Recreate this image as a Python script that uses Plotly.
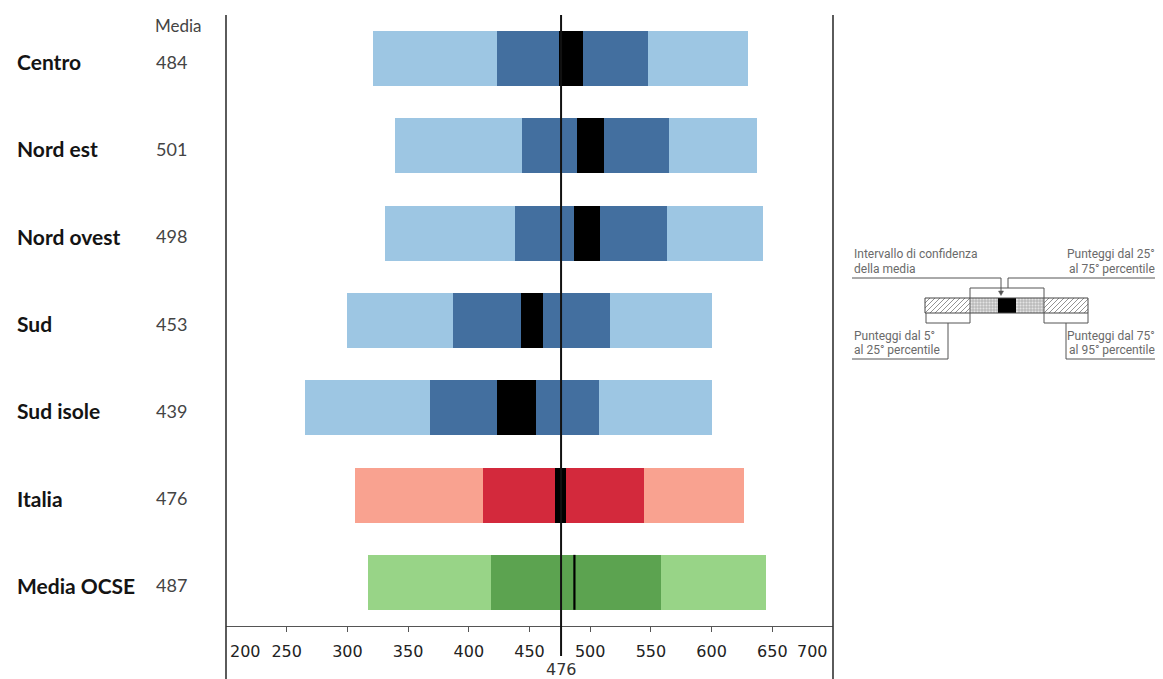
import plotly.graph_objects as go

# ---------------- data ----------------
categories = ["Centro", "Nord est", "Nord ovest", "Sud", "Sud isole", "Italia", "Media OCSE"]
means = [484, 501, 498, 453, 439, 476, 487]
p5 = [321, 339, 331, 300, 265, 306, 317]
p25 = [423, 444, 438, 387, 368, 412, 418]
ci_lo = [474, 489, 487, 443, 423, 471, None]
ci_hi = [494, 511, 508, 461, 455, 480, None]
p75 = [548, 565, 563, 516, 507, 544, 558]
p95 = [630, 637, 642, 600, 600, 627, 645]
ref_value = 476
tick_values = [250, 300, 350, 400, 450, 500, 550, 600, 650]
axis_min, axis_max = 200, 700

# ---------------- styles ----------------
light_col = ["#9dc6e3"] * 5 + ["#f9a290", "#98d487"]
dark_col = ["#436f9f"] * 5 + ["#d3293c", "#5ca350"]
BAR_W = 0.63

ys = list(range(len(categories)))

fig = go.Figure()
fig.add_trace(go.Bar(orientation="h", y=ys, base=p5,
                     x=[b - a for a, b in zip(p5, p95)],
                     width=BAR_W, marker=dict(color=light_col, line=dict(width=0)),
                     hoverinfo="skip"))
fig.add_trace(go.Bar(orientation="h", y=ys, base=p25,
                     x=[b - a for a, b in zip(p25, p75)],
                     width=BAR_W, marker=dict(color=dark_col, line=dict(width=0)),
                     hoverinfo="skip"))
ci_y = [y for y, lo in zip(ys, ci_lo) if lo is not None]
ci_base = [lo for lo in ci_lo if lo is not None]
ci_len = [hi - lo for lo, hi in zip(ci_lo, ci_hi) if lo is not None]
fig.add_trace(go.Bar(orientation="h", y=ci_y, base=ci_base, x=ci_len,
                     width=BAR_W, marker=dict(color="#000000", line=dict(width=0)),
                     hoverinfo="skip"))
# mean marker for rows without a confidence interval
for y, m, lo in zip(ys, means, ci_lo):
    if lo is None:
        fig.add_trace(go.Scatter(x=[m, m], y=[y - BAR_W / 2, y + BAR_W / 2], mode="lines",
                                 line=dict(color="#000000", width=2.2), hoverinfo="skip"))

# ---------------- layout geometry ----------------
# page body has an 8px margin: shrink the figure so the plot lands at the same place
OFF = 8
W_FIG, H_FIG = 1163 - OFF, 679 - OFF
L, R, T, B = 226, 833, 15, 626          # plot area in window pixels
PW, PH = R - L, B - T


def px(x):
    return (x - L) / PW


def py(y):
    return (B - y) / PH


shapes = []
annotations = []

# reference line (national mean)
shapes.append(dict(type="line", xref="x", yref="paper", x0=ref_value, x1=ref_value,
                   y0=py(656), y1=1, line=dict(color="#111111", width=2)))
# frame borders
for xp in (0, 1):
    shapes.append(dict(type="line", xref="paper", yref="paper", x0=xp, x1=xp,
                       y0=py(679), y1=1, line=dict(color="#333333", width=1.6)))

# left labels
for y, c, m in zip(ys, categories, means):
    annotations.append(dict(xref="paper", yref="y", x=px(15), y=y, yshift=-3,
                            text=c, showarrow=False, xanchor="left", yanchor="middle",
                            font=dict(family="Lato", size=21, color="#141414", weight="bold")))
    annotations.append(dict(xref="paper", yref="y", x=px(154), y=y, yshift=-3,
                            text=str(m), showarrow=False, xanchor="left", yanchor="middle",
                            font=dict(family="Lato", size=18, color="#444444")))
annotations.append(dict(xref="paper", yref="paper", x=px(153), y=py(26),
                        text="Media", showarrow=False, xanchor="left", yanchor="middle",
                        font=dict(family="Lato", size=17, color="#444444")))

# edge tick labels and reference value label
tickfont = dict(family="DejaVu Sans", size=16, color="#222222")
annotations.append(dict(xref="x", yref="paper", x=axis_min, y=py(651), xshift=2,
                        text=str(axis_min), showarrow=False, xanchor="left", yanchor="middle",
                        font=tickfont))
annotations.append(dict(xref="x", yref="paper", x=axis_max, y=py(651), xshift=-3,
                        text=str(axis_max), showarrow=False, xanchor="right", yanchor="middle",
                        font=tickfont))
annotations.append(dict(xref="x", yref="paper", x=ref_value, y=py(669),
                        text=str(ref_value), showarrow=False, xanchor="center", yanchor="middle",
                        font=dict(family="DejaVu Sans", size=16, color="#333333")))

# ---------------- key diagram (right side) ----------------
KC = "#555555"
KW = 1


def kline(x0, y0, x1, y1, w=KW, c=KC):
    shapes.append(dict(type="line", xref="paper", yref="paper",
                       x0=px(x0), y0=py(y0), x1=px(x1), y1=py(y1),
                       line=dict(color=c, width=w)))


bx0, bx1, by0, by1 = 925, 1088, 298, 313
seg = [925, 970, 998, 1016, 1044, 1088]


def hatch(xa, xb):
    d = ""
    step = 5
    h = by1 - by0
    s = xa - h
    while s < xb:
        x0, y0 = s, by1
        x1, y1 = s + h, by0
        if x0 < xa:
            y0 = by1 - (xa - x0)
            x0 = xa
        if x1 > xb:
            y1 = by0 + (x1 - xb)
            x1 = xb
        if x1 > x0:
            d += f"M{px(x0)},{py(y0)} L{px(x1)},{py(y1)} "
        s += step
    shapes.append(dict(type="path", xref="paper", yref="paper", path=d,
                       line=dict(color="#777777", width=0.8)))


def grid(xa, xb):
    shapes.append(dict(type="rect", xref="paper", yref="paper",
                       x0=px(xa), x1=px(xb), y0=py(by1), y1=py(by0),
                       fillcolor="#e4e4e4", line=dict(width=0)))
    d = ""
    gx = xa + 3
    while gx < xb:
        d += f"M{px(gx)},{py(by0)} L{px(gx)},{py(by1)} "
        gx += 3
    gy = by0 + 3
    while gy < by1:
        d += f"M{px(xa)},{py(gy)} L{px(xb)},{py(gy)} "
        gy += 3
    shapes.append(dict(type="path", xref="paper", yref="paper", path=d,
                       line=dict(color="#9a9a9a", width=0.6)))


hatch(seg[0], seg[1])
grid(seg[1], seg[2])
shapes.append(dict(type="rect", xref="paper", yref="paper",
                   x0=px(seg[2]), x1=px(seg[3]), y0=py(by1), y1=py(by0),
                   fillcolor="#000000", line=dict(width=0)))
grid(seg[3], seg[4])
hatch(seg[4], seg[5])
shapes.append(dict(type="rect", xref="paper", yref="paper",
                   x0=px(bx0), x1=px(bx1), y0=py(by1), y1=py(by0),
                   line=dict(color="#444444", width=1)))
for sx in (seg[1], seg[4]):
    kline(sx, by0, sx, by1)

# top bracket over interquartile segments
kline(970, 288, 1044, 288)
kline(970, 288, 970, by0)
kline(1044, 288, 1044, by0)
# confidence interval pointer
kline(852, 278, 1001, 278)
kline(1001, 278, 1001, 292)
shapes.append(dict(type="path", xref="paper", yref="paper",
                   path=f"M{px(998.5)},{py(291)} L{px(1003.5)},{py(291)} L{px(1001)},{py(295.5)} Z",
                   fillcolor=KC, line=dict(color=KC, width=0.5)))
# 25-75 pointer
kline(1008, 278, 1157, 278)
kline(1008, 278, 1008, 288)
# bottom-left bracket
kline(926, 323, 970, 323)
kline(926, by1, 926, 323)
kline(970, by1, 970, 323)
kline(948, 323, 948, 359)
kline(852, 359, 948, 359)
# bottom-right bracket
kline(1044, 323, 1088, 323)
kline(1044, by1, 1044, 323)
kline(1088, by1, 1088, 323)
kline(1066, 323, 1066, 359)
kline(1066, 359, 1157, 359)

kfont = dict(family="Roboto", size=12, color="#6a6a6a")
key_texts = [
    (852, 254, "left", "Intervallo di confidenza"),
    (852, 269, "left", "della media"),
    (1157, 254, "right", "Punteggi dal 25°"),
    (1157, 269, "right", "al 75° percentile"),
    (852, 336, "left", "Punteggi dal 5°"),
    (852, 350, "left", "al 25° percentile"),
    (1157, 336, "right", "Punteggi dal 75°"),
    (1157, 350, "right", "al 95° percentile"),
]
for x, y, anc, t in key_texts:
    annotations.append(dict(xref="paper", yref="paper", x=px(x), y=py(y), text=t,
                            showarrow=False, xanchor=anc, yanchor="middle", font=kfont))

fig.update_layout(
    width=W_FIG, height=H_FIG,
    margin=dict(l=L - OFF, r=1163 - R, t=T - OFF, b=679 - B, pad=0),
    paper_bgcolor="white", plot_bgcolor="white",
    barmode="overlay", bargap=0, showlegend=False,
    xaxis=dict(range=[axis_min, axis_max], tickvals=tick_values,
               ticktext=[str(v) for v in tick_values],
               showgrid=False, zeroline=False, showline=True, linecolor="#555555",
               linewidth=1.4, ticks="outside", ticklen=5, tickcolor="#555555",
               tickwidth=1.2, tickfont=tickfont, ticklabelstandoff=6, fixedrange=True),
    yaxis=dict(range=[6.5, -0.5], visible=False, showgrid=False, zeroline=False,
               fixedrange=True),
    shapes=shapes, annotations=annotations,
)

fig.write_html("out.html")
